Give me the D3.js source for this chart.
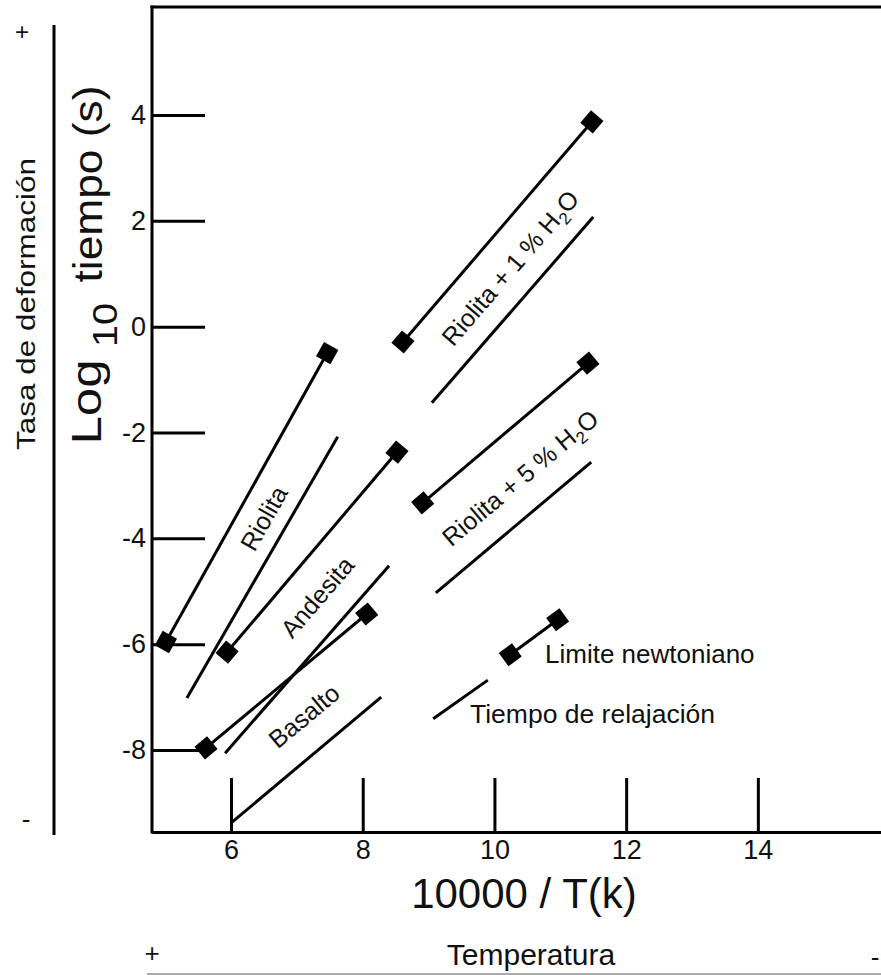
<!DOCTYPE html>
<html>
<head>
<meta charset="utf-8">
<script src="https://cdn.jsdelivr.net/npm/d3@7"></script>
<style>
  body { margin: 0; background: #fff; }
  svg text { font-family: "Liberation Sans", Arial, sans-serif; fill: #111; }
</style>
</head>
<body>
<svg id="chart" width="881" height="975"></svg>
<script>
// rock types, one entry per pair of lines
var rocks = ["Riolita", "Andesita", "Basalto", "Riolita + 1 % H", "Riolita + 5 % H"];
var hasWater = [false, false, false, true, true];

// Newtonian limit lines (diamond at each end)
var newtX0 = [5.01, 5.94, 5.62, 8.61, 8.91];
var newtY0 = [-5.96, -6.15, -7.96, -0.29, -3.33];
var newtX1 = [7.46, 8.52, 8.06, 11.48, 11.42];
var newtY1 = [-0.50, -2.37, -5.43, 3.87, -0.69];

// relaxation time lines
var relaxX0 = [5.33, 5.91, 6.02, 9.05, 9.11];
var relaxY0 = [-7.02, -8.06, -9.36, -1.44, -5.03];
var relaxX1 = [7.62, 8.40, 8.28, 11.50, 11.47];
var relaxY1 = [-2.08, -4.52, -7.00, 2.07, -2.56];

// where the rock names sit
var labelX = [6.50, 7.31, 7.11, 10.24, 10.39];
var labelY = [-3.62, -5.11, -7.36, 1.11, -2.86];

// legend samples
var legendNewt = [[10.24, -6.20], [10.96, -5.54]];
var legendRelax = [[9.07, -7.41], [9.90, -6.68]];

var xTicks = [6, 8, 10, 12, 14];
var yTicks = [4, 2, 0, -2, -4, -6, -8];

var svg = d3.select("#chart");

var x = d3.scaleLinear().domain([4.8, 15.87]).range([152, 881]);
var y = d3.scaleLinear().domain([-9.55, 6.04]).range([832, 7]);

// axes, ticks pointing inwards
var yAxis = svg.append("g")
    .attr("transform", "translate(152,0)")
    .call(d3.axisLeft(y).tickValues(yTicks).tickFormat(function (d) { return String(d); })
        .tickSizeInner(-53).tickSizeOuter(0).tickPadding(6));
var xAxis = svg.append("g")
    .attr("transform", "translate(0,832)")
    .call(d3.axisBottom(x).tickValues(xTicks).tickFormat(function (d) { return String(d); })
        .tickSizeInner(-54).tickSizeOuter(0).tickPadding(8));

[yAxis, xAxis].forEach(function (a) {
    a.selectAll("path, line").attr("stroke", "#000").attr("stroke-width", 3);
    a.selectAll("text").attr("font-size", 27).style("font-family", '"Liberation Sans", Arial, sans-serif').attr("fill", "#111");
});
yAxis.select(".domain").attr("d", "M0," + (y.range()[1] - 1.5) + "V" + (y.range()[0] + 1.5));

// top frame line
svg.append("line")
    .attr("x1", x.range()[0] - 1.5).attr("x2", x.range()[1])
    .attr("y1", y.range()[1]).attr("y2", y.range()[1])
    .attr("stroke", "#000").attr("stroke-width", 3);

var plot = svg.append("g");

function angle(x0, y0, x1, y1) {
    return Math.atan2(y(y1) - y(y0), x(x1) - x(x0)) * 180 / Math.PI;
}

function drawDiamond(px, py, ang) {
    plot.append("path")
        .attr("d", d3.symbol().type(d3.symbolSquare).size(270)())
        .attr("transform", "translate(" + x(px) + "," + y(py) + ") rotate(" + ang + ")")
        .attr("fill", "#000");
}

rocks.forEach(function (name, i) {
    plot.append("line")
        .attr("x1", x(newtX0[i])).attr("y1", y(newtY0[i]))
        .attr("x2", x(newtX1[i])).attr("y2", y(newtY1[i]))
        .attr("stroke", "#000").attr("stroke-width", 3);
    plot.append("line")
        .attr("x1", x(relaxX0[i])).attr("y1", y(relaxY0[i]))
        .attr("x2", x(relaxX1[i])).attr("y2", y(relaxY1[i]))
        .attr("stroke", "#000").attr("stroke-width", 3);

    var a = angle(newtX0[i], newtY0[i], newtX1[i], newtY1[i]);
    drawDiamond(newtX0[i], newtY0[i], a);
    drawDiamond(newtX1[i], newtY1[i], a);

    var a2 = (a + angle(relaxX0[i], relaxY0[i], relaxX1[i], relaxY1[i])) / 2;
    var t = plot.append("text")
        .attr("transform", "translate(" + x(labelX[i]) + "," + y(labelY[i]) + ") rotate(" + a2 + ")")
        .attr("text-anchor", "middle")
        .attr("dy", "0.35em")
        .attr("font-size", 25)
        .text(name);
    if (hasWater[i]) {
        t.append("tspan").attr("font-size", 17).attr("dy", 6).text("2");
        t.append("tspan").attr("dy", -6).text("O");
    }
});

// legend
var ln = angle(legendNewt[0][0], legendNewt[0][1], legendNewt[1][0], legendNewt[1][1]);
plot.append("line")
    .attr("x1", x(legendNewt[0][0])).attr("y1", y(legendNewt[0][1]))
    .attr("x2", x(legendNewt[1][0])).attr("y2", y(legendNewt[1][1]))
    .attr("stroke", "#000").attr("stroke-width", 3);
drawDiamond(legendNewt[0][0], legendNewt[0][1], ln);
drawDiamond(legendNewt[1][0], legendNewt[1][1], ln);
plot.append("line")
    .attr("x1", x(legendRelax[0][0])).attr("y1", y(legendRelax[0][1]))
    .attr("x2", x(legendRelax[1][0])).attr("y2", y(legendRelax[1][1]))
    .attr("stroke", "#000").attr("stroke-width", 3);
svg.append("text").attr("x", 545).attr("y", 663).attr("font-size", 26).text("Limite newtoniano");
svg.append("text").attr("x", 470).attr("y", 723).attr("font-size", 26.5).text("Tiempo de relajación");

// axis titles
svg.append("text").attr("x", 524).attr("y", 908).attr("text-anchor", "middle")
    .attr("font-size", 42).text("10000 / T(k)");

function vText(str, cx, cy, size, len) {
    svg.append("text")
        .attr("transform", "translate(" + cx + "," + cy + ") rotate(-90)")
        .attr("text-anchor", "middle")
        .attr("font-size", size)
        .attr("textLength", len)
        .attr("lengthAdjust", "spacingAndGlyphs")
        .text(str);
}
vText("Log", 101, 402, 42, 85);
vText("10", 117, 325, 35, 44);
vText("tiempo (s)", 102, 184, 40, 197);
vText("Tasa de deformación", 35, 304, 25, 292);

// strain rate side bar
svg.append("line").attr("x1", 54).attr("x2", 54).attr("y1", 25).attr("y2", 835)
    .attr("stroke", "#000").attr("stroke-width", 3);
svg.append("text").attr("x", 22).attr("y", 40).attr("text-anchor", "middle").attr("font-size", 24).text("+");
svg.append("text").attr("x", 26).attr("y", 828).attr("text-anchor", "middle").attr("font-size", 26).text("-");

// temperature bar
svg.append("line").attr("x1", 147).attr("x2", 881).attr("y1", 974).attr("y2", 974)
    .attr("stroke", "#aaa").attr("stroke-width", 2);
svg.append("text").attr("x", 152).attr("y", 962).attr("text-anchor", "middle").attr("font-size", 26).text("+");
svg.append("text").attr("x", 531).attr("y", 965).attr("text-anchor", "middle").attr("font-size", 30).text("Temperatura");
svg.append("text").attr("x", 875).attr("y", 966).attr("text-anchor", "middle").attr("font-size", 26).text("-");
</script>
</body>
</html>
